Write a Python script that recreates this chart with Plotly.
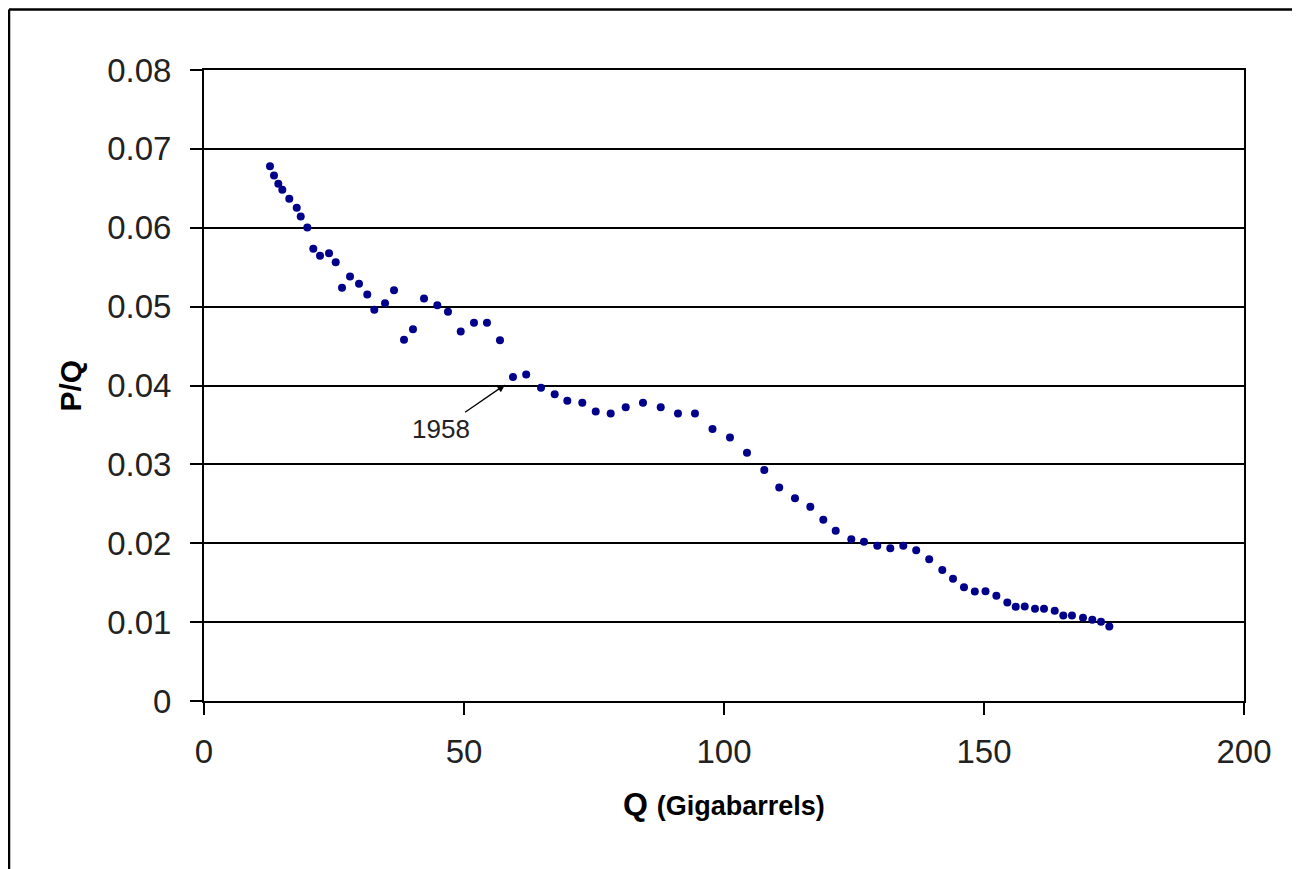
import plotly.graph_objects as go

# Cumulative production Q (Gigabarrels) and ratio P/Q
q_values = [12.69, 13.46, 14.29, 15.06, 16.40, 17.83, 18.60, 19.87, 21.02, 22.31,
            24.04, 25.33, 26.54, 28.08, 29.81, 31.40, 32.75, 34.81, 36.54, 38.46,
            40.19, 42.31, 44.87, 46.92, 49.37, 51.92, 54.42, 56.92, 59.42, 61.96,
            64.81, 67.44, 69.87, 72.75, 75.33, 78.21, 81.10, 84.42, 87.83, 91.15,
            94.42, 97.79, 101.15, 104.42, 107.75, 110.62, 113.65, 116.60, 119.10, 121.48,
            124.48, 126.92, 129.48, 131.98, 134.48, 136.96, 139.46, 141.98, 144.04, 146.15,
            148.23, 150.29, 152.38, 154.48, 156.10, 157.83, 159.81, 161.54, 163.60, 165.25,
            166.92, 169.04, 170.83, 172.50, 174.10]
pq_values = [0.06780, 0.06662, 0.06557, 0.06481, 0.06367, 0.06253, 0.06143, 0.06003, 0.05733, 0.05644,
             0.05677, 0.05563, 0.05239, 0.05382, 0.05289, 0.05154, 0.04960, 0.05043, 0.05208, 0.04579,
             0.04714, 0.05103, 0.05018, 0.04934, 0.04685, 0.04795, 0.04795, 0.04574, 0.04108, 0.04139,
             0.03971, 0.03890, 0.03806, 0.03781, 0.03670, 0.03645, 0.03725, 0.03781, 0.03725, 0.03645,
             0.03645, 0.03449, 0.03341, 0.03147, 0.02929, 0.02707, 0.02571, 0.02462, 0.02297, 0.02158,
             0.02051, 0.02018, 0.01968, 0.01937, 0.01968, 0.01912, 0.01798, 0.01661, 0.01551, 0.01442,
             0.01388, 0.01391, 0.01333, 0.01249, 0.01194, 0.01198, 0.01169, 0.01169, 0.01144, 0.01084,
             0.01084, 0.01055, 0.01029, 0.01004, 0.00945]

x_ticks = [0, 50, 100, 150, 200]
y_ticks = [0, 0.01, 0.02, 0.03, 0.04, 0.05, 0.06, 0.07, 0.08]
y_tick_labels = ["0", "0.01", "0.02", "0.03", "0.04", "0.05", "0.06", "0.07", "0.08"]

annot_text = "1958"
annot_x = 57.9
annot_y = 0.0401

FONT = "Liberation Sans, Arial, sans-serif"

fig = go.Figure()
fig.add_trace(go.Scatter(
    x=q_values, y=pq_values, mode="markers",
    marker=dict(symbol="circle", size=8, color="#00008B", line=dict(width=0)),
    showlegend=False,
))

fig.update_layout(
    width=1300, height=869,
    margin=dict(l=196, r=64, t=62, b=176),
    paper_bgcolor="white", plot_bgcolor="white",
    font=dict(family=FONT, color="black"),
    xaxis=dict(
        range=[0, 200], tickvals=x_ticks, ticktext=[str(v) for v in x_ticks],
        showgrid=False, zeroline=False,
        showline=True, linecolor="black", linewidth=2, mirror=True,
        ticks="outside", ticklen=12, tickwidth=2, tickcolor="black",
        tickfont=dict(size=33, family=FONT, color="#222"),
        ticklabelstandoff=8,
    ),
    yaxis=dict(
        range=[0, 0.08], tickvals=y_ticks, ticktext=y_tick_labels,
        showgrid=True, gridcolor="black", gridwidth=2, zeroline=False,
        showline=True, linecolor="black", linewidth=2, mirror=True,
        ticks="outside", ticklen=12, tickwidth=2, tickcolor="black",
        tickfont=dict(size=33, family=FONT, color="#222"),
        ticklabelstandoff=12,
    ),
    annotations=[
        dict(
            x=annot_x, y=annot_y, xref="x", yref="y",
            text=annot_text, showarrow=True,
            ax=-64, ay=44, axref="pixel", ayref="pixel",
            arrowhead=2, arrowsize=1.2, arrowwidth=1.3, arrowcolor="black",
            font=dict(size=26, family=FONT, color="#222"),
        ),
        dict(
            x=0.5, y=-0.163, xref="paper", yref="paper",
            text="<b>Q</b> <b><span style='font-size:27px'>(Gigabarrels)</span></b>",
            showarrow=False, font=dict(size=32, family=FONT, color="black"),
            xanchor="center", yanchor="middle",
        ),
        dict(
            x=-0.1288, y=0.5, xref="paper", yref="paper",
            text="<b>P/Q</b>", textangle=-90,
            showarrow=False, font=dict(size=30, family=FONT, color="black"),
            xanchor="center", yanchor="middle",
        ),
    ],
    shapes=[
        dict(type="line", xref="paper", yref="paper",
             x0=-0.1875, x1=1.2, y0=1.0959, y1=1.0959,
             line=dict(color="black", width=2.5)),
        dict(type="line", xref="paper", yref="paper",
             x0=-0.1875, x1=-0.1875, y0=1.0959, y1=-0.5,
             line=dict(color="black", width=2.5)),
    ],
)

fig.write_html("out.html")
